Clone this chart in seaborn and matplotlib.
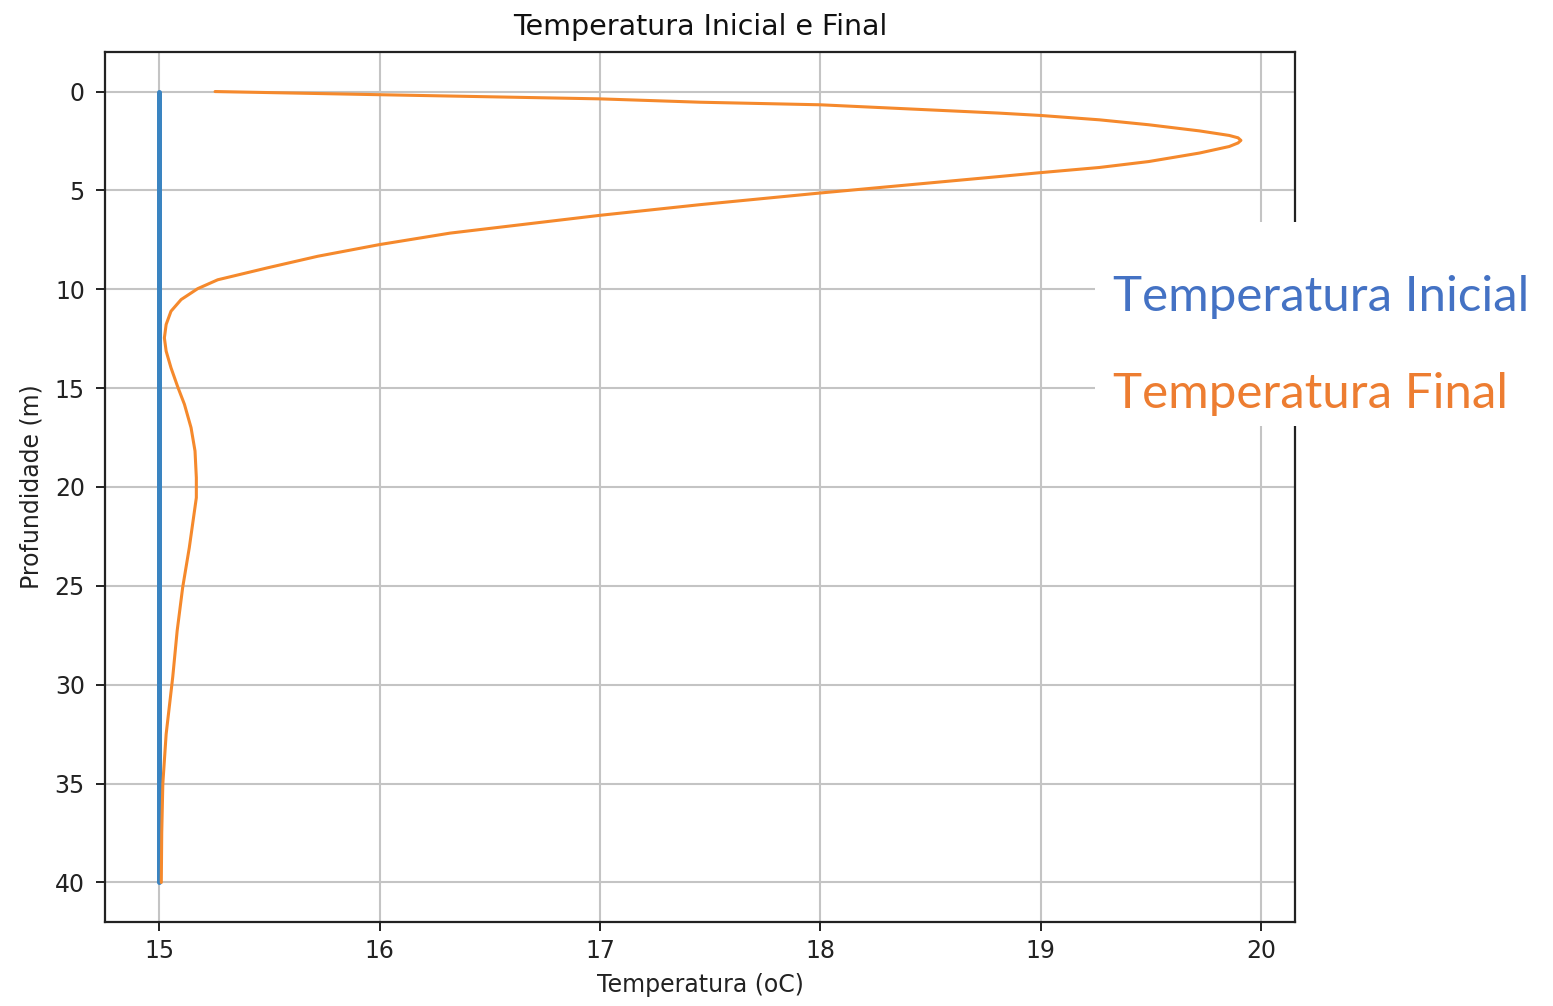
import matplotlib
matplotlib.use("Agg")
import matplotlib.pyplot as plt
from matplotlib.patches import Rectangle
from matplotlib.ticker import MultipleLocator
import pandas as pd
import seaborn as sns

# Initial profile: uniform 15 oC from the surface down to 40 m
temp_inicial = [15.0, 15.0]
prof_inicial = [0.0, 40.0]

# Final profile after heating (temperature in oC, depth in m)
temp_final = [15.254, 16.0, 17.0, 17.455, 18.0, 18.81, 19.0, 19.266,
              19.49, 19.72, 19.855, 19.895, 19.908, 19.895, 19.855, 19.72,
              19.49, 19.266, 19.0, 18.81, 18.0, 17.455, 17.0, 16.32, 16.0,
              15.72, 15.49, 15.266, 15.175, 15.10, 15.054, 15.032,
              15.024, 15.032, 15.054, 15.085, 15.115, 15.145, 15.163, 15.169,
              15.169, 15.137, 15.107, 15.082, 15.062, 15.032, 15.017, 15.012,
              15.01]
prof_final = [0.0, 0.16, 0.37, 0.54, 0.67, 1.09, 1.21, 1.43,
              1.68, 1.99, 2.22, 2.34, 2.47, 2.60, 2.78, 3.11,
              3.54, 3.84, 4.10, 4.30, 5.13, 5.72, 6.26, 7.16, 7.74,
              8.33, 8.92, 9.52, 9.97, 10.52, 11.11, 11.78,
              12.46, 13.13, 13.97, 14.95, 15.82, 17.0, 18.18, 19.53,
              20.54, 23.07, 25.08, 27.27, 29.6, 32.5, 35.0, 37.5,
              40.0]

label_inicial = "Temperatura Inicial"
label_final = "Temperatura Final"

df_ini = pd.DataFrame({"temp": temp_inicial, "prof": prof_inicial})
df_fin = pd.DataFrame({"temp": temp_final, "prof": prof_final})

sns.set_theme(style="ticks")
plt.rcParams["font.family"] = ["DejaVu Sans"]

W, H = 1553, 1006
fig = plt.figure(figsize=(W / 100, H / 100), dpi=100)
ax = fig.add_axes([105 / W, 1 - 922 / H, (1295 - 105) / W, (922 - 52) / H])

sns.lineplot(data=df_ini, x="temp", y="prof", sort=False, estimator=None,
             color="#3a84c1", linewidth=3.6, ax=ax, zorder=3)
sns.lineplot(data=df_fin, x="temp", y="prof", sort=False, estimator=None,
             color="#f5892c", linewidth=2.2, ax=ax, zorder=4)

ax.margins(x=0.05, y=0.05)
ax.invert_yaxis()
ax.xaxis.set_major_locator(MultipleLocator(1))
ax.yaxis.set_major_locator(MultipleLocator(5))

ax.grid(True, color="#c4c4c4", linewidth=1.5)
ax.set_axisbelow(True)
for s in ax.spines.values():
    s.set_color("#222222")
    s.set_linewidth(1.6)

ax.tick_params(axis="both", which="major", length=6.5, width=1.4,
               colors="#222222", labelsize=17, labelcolor="#222222")
ax.tick_params(axis="x", pad=6)
ax.tick_params(axis="y", pad=8)

ax.set_title("Temperatura Inicial e Final", fontsize=20.5, color="#111111", pad=12)
ax.set_xlabel("Temperatura (oC)", fontsize=17, color="#222222", labelpad=7)
ax.set_ylabel("Profundidade (m)", fontsize=17, color="#222222", labelpad=8)

# Legend panel drawn over the right side of the figure
fig.add_artist(Rectangle((1095 / W, 1 - 426 / H), (W - 1095) / W, (426 - 222) / H,
                         transform=fig.transFigure, facecolor="white",
                         edgecolor="none", zorder=10))
fig.text(1113 / W, 1 - 311 / H, label_inicial, color="#4472C4", fontsize=35.5,
         family=["Lato", "DejaVu Sans"], va="baseline", ha="left", zorder=11)
fig.text(1113 / W, 1 - 408 / H, label_final, color="#ED7D31", fontsize=35.5,
         family=["Lato", "DejaVu Sans"], va="baseline", ha="left", zorder=11)

fig.savefig("out.png", dpi=100, facecolor="white")
